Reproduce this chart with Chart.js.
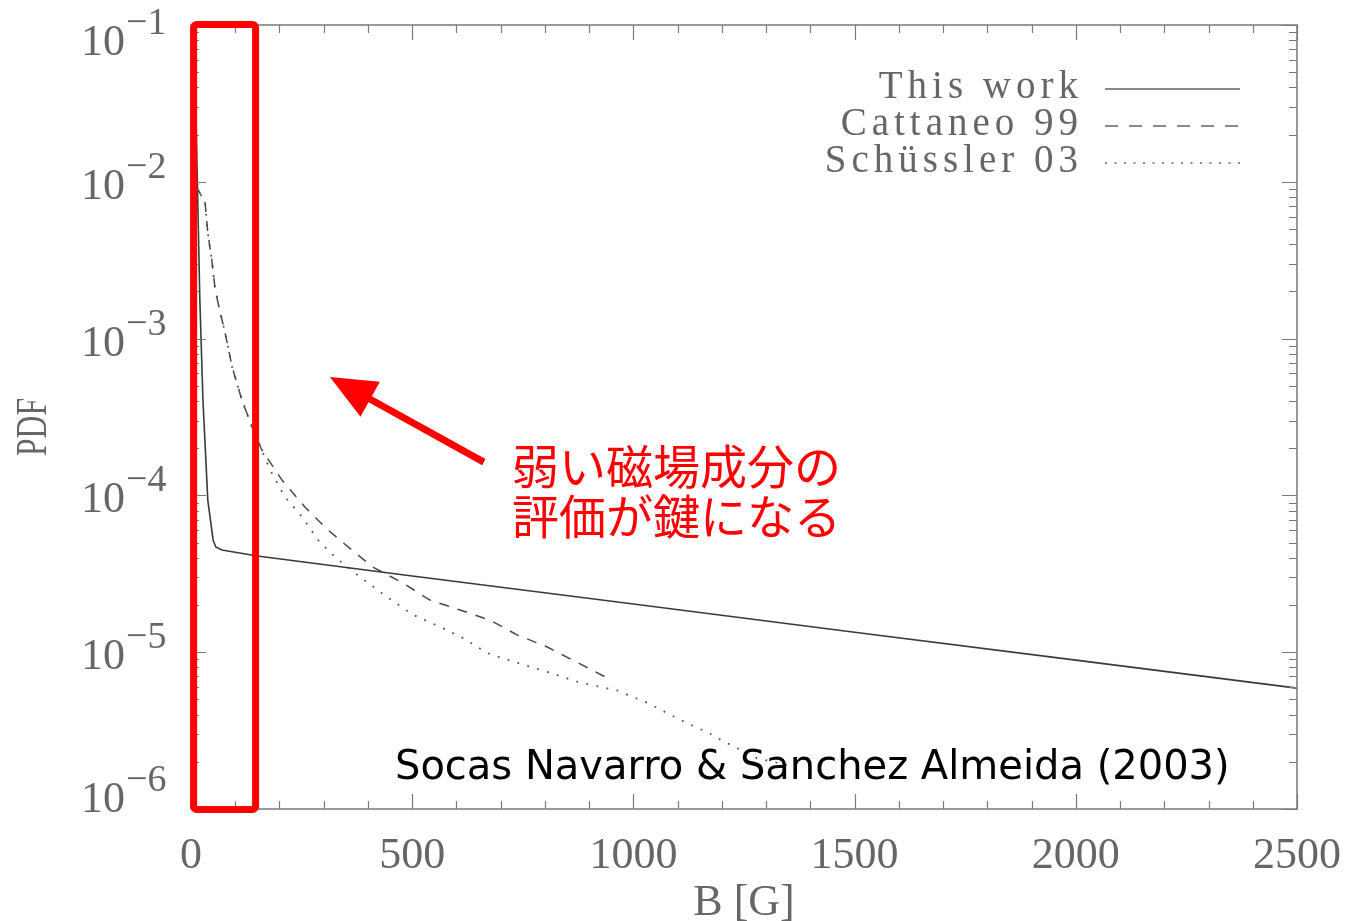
<!DOCTYPE html>
<html>
<head>
<meta charset="utf-8">
<script src="https://cdn.jsdelivr.net/npm/chart.js@4.4.1/dist/chart.umd.min.js"></script>
<style>
  html, body { margin: 0; padding: 0; background: #ffffff; }
  #wrap { width: 1347px; height: 921px; position: relative; }
</style>
</head>
<body>
<div id="wrap"><canvas id="c" width="1347" height="921"></canvas></div>
<script>
// ---- data: magnetic field strength B [G] and probability density ----
const seriesNames = ['This work', 'Cattaneo 99', 'Schüssler 03'];

const thisWorkB   = [11, 20, 27, 38, 50, 56, 70, 150, 500, 1000, 1500, 2000, 2500];
const thisWorkPdf = [2.87e-2, 1.76e-3, 4.06e-4, 9.3e-5, 5.2e-5, 4.69e-5, 4.49e-5, 4.11e-5,
                     3.06e-5, 2.03e-5, 1.34e-5, 8.9e-6, 5.9e-6];

const cattaneoB   = [11, 32, 38, 47, 54, 61, 77, 93, 115, 138, 160, 206, 258, 310, 364,
                     411, 479, 540, 608, 676, 737, 805, 863, 943];
const cattaneoPdf = [9.5e-3, 7.3e-3, 4.7e-3, 3.17e-3, 2.13e-3, 1.69e-3, 1.09e-3, 6.6e-4,
                     4.06e-4, 2.73e-4, 1.95e-4, 1.25e-4, 8.4e-5, 6.0e-5, 4.48e-5, 3.49e-5,
                     2.76e-5, 2.15e-5, 1.86e-5, 1.60e-5, 1.29e-5, 1.08e-5, 8.9e-6, 6.8e-6];

const schusslerB   = [11, 32, 38, 47, 54, 61, 77, 93, 115, 138, 179, 212, 251, 287, 325,
                      382, 443, 502, 563, 615, 669, 728, 805, 879, 963, 1033, 1076, 1121,
                      1166, 1207, 1234, 1279, 1347];
const schusslerPdf = [9.5e-3, 7.3e-3, 4.7e-3, 3.17e-3, 2.13e-3, 1.69e-3, 1.09e-3, 6.6e-4,
                      4.06e-4, 2.73e-4, 1.45e-4, 9.8e-5, 7.3e-5, 5.2e-5, 4.05e-5, 3.02e-5,
                      2.25e-5, 1.73e-5, 1.45e-5, 1.23e-5, 9.9e-6, 8.7e-6, 7.5e-6, 6.4e-6,
                      5.7e-6, 4.74e-6, 4.09e-6, 3.53e-6, 3.10e-6, 2.67e-6, 2.45e-6, 2.11e-6,
                      1.91e-6];

// ---- axes ----
const xTickValues    = [0, 500, 1000, 1500, 2000, 2500];
const xMinorStep     = 100;
const yTickExponents = [-1, -2, -3, -4, -5, -6];
const xTitle = 'B [G]';
const yTitle = 'PDF';

// ---- annotations ----
const highlightRangeB = [6, 146];
const arrowFrom = { b: 662, pdf: 1.63e-4 };
const arrowTo   = { b: 314, pdf: 5.7e-4 };
const noteLines = ['弱い磁場成分の', '評価が鍵になる'];
const citation  = 'Socas Navarro & Sanchez Almeida (2003)';

function toPoints(xs, ys) { return xs.map((x, i) => ({ x: x, y: ys[i] })); }

const lineStyles = [
  { color: '#3a3a3a', width: 1.6, dash: [] },
  { color: '#4a4a4a', width: 1.5, dash: [10, 9] },
  { color: '#555555', width: 1.8, dash: [1.8, 8.5] }
];

const AXIS_GRAY = '#7a7a7a';
const LABEL_GRAY = '#666666';

const decorations = {
  id: 'decorations',
  afterDatasetsDraw(chart) {
    const ctx = chart.ctx;
    const a = chart.chartArea;
    const xs = chart.scales.x, ys = chart.scales.y;
    ctx.save();

    // frame
    ctx.strokeStyle = AXIS_GRAY;
    ctx.lineWidth = 1.5;
    ctx.setLineDash([]);
    ctx.strokeRect(a.left, a.top, a.right - a.left, a.bottom - a.top);

    // x ticks (bottom and top, pointing inward)
    ctx.lineWidth = 1.2;
    const xMax = xTickValues[xTickValues.length - 1];
    for (let v = 0; v <= xMax; v += xMinorStep) {
      const px = Math.round(xs.getPixelForValue(v)) + 0.5;
      const major = xTickValues.includes(v);
      const len = major ? 15 : 8;
      ctx.beginPath();
      ctx.moveTo(px, a.bottom); ctx.lineTo(px, a.bottom - len);
      ctx.moveTo(px, a.top); ctx.lineTo(px, a.top + len);
      ctx.stroke();
    }
    // y ticks (left and right)
    const yMinExp = Math.min(...yTickExponents), yMaxExp = Math.max(...yTickExponents);
    for (let e = yMinExp; e <= yMaxExp; e++) {
      for (let k = 1; k <= 9; k++) {
        if (e === yMaxExp && k > 1) break;
        const v = k * Math.pow(10, e);
        const py = Math.round(ys.getPixelForValue(v)) + 0.5;
        const len = k === 1 ? 15 : 8;
        ctx.beginPath();
        ctx.moveTo(a.left, py); ctx.lineTo(a.left + len, py);
        ctx.moveTo(a.right, py); ctx.lineTo(a.right - len, py);
        ctx.stroke();
      }
    }

    // x tick labels
    ctx.fillStyle = LABEL_GRAY;
    ctx.font = '44px "Liberation Serif"';
    ctx.textAlign = 'center';
    ctx.textBaseline = 'alphabetic';
    xTickValues.forEach(v => {
      ctx.fillText(String(v), xs.getPixelForValue(v), a.bottom + 59);
    });

    // y tick labels: 10 with superscript exponent
    yTickExponents.forEach(e => {
      const ty = ys.getPixelForValue(Math.pow(10, e));
      const cy = Math.min(Math.max(ty + 2, a.top + 15), a.bottom - 12);
      ctx.font = '44px "Liberation Serif"';
      ctx.textAlign = 'right';
      ctx.fillText('10', a.left - 66, cy + 15);
      ctx.font = '38px "Liberation Serif"';
      ctx.textAlign = 'left';
      ctx.fillText('\u2212' + Math.abs(e), a.left - 65, cy - 6);
    });

    // axis titles
    ctx.font = '44px "Liberation Serif"';
    ctx.textAlign = 'center';
    ctx.fillText(xTitle, (a.left + a.right) / 2, a.bottom + 106);
    ctx.save();
    ctx.translate(46, (a.top + a.bottom) / 2 + 10);
    ctx.rotate(-Math.PI / 2);
    ctx.scale(0.72, 1);
    ctx.fillText(yTitle, 0, 0);
    ctx.restore();

    // legend
    ctx.font = '39px "Liberation Serif"';
    ctx.letterSpacing = '5px';
    ctx.textAlign = 'left';
    const legendRight = a.right - 219;
    const rowBase = [a.top + 73, a.top + 110, a.top + 147];
    seriesNames.forEach((name, i) => {
      const w = ctx.measureText(name).width - 5;
      ctx.fillStyle = LABEL_GRAY;
      ctx.fillText(name, legendRight - w, rowBase[i]);
      const ly = rowBase[i] - 9;
      ctx.strokeStyle = '#8a8a8a';
      ctx.lineWidth = i === 0 ? 2.2 : 2;
      ctx.setLineDash(i === 1 ? [13, 11] : i === 2 ? [2, 7.5] : []);
      ctx.beginPath();
      ctx.moveTo(a.right - 192, ly); ctx.lineTo(a.right - 57, ly);
      ctx.stroke();
    });
    ctx.letterSpacing = '0px';
    ctx.setLineDash([]);

    // highlight box over the weak-field range
    const bx0 = xs.getPixelForValue(highlightRangeB[0]);
    const bx1 = xs.getPixelForValue(highlightRangeB[1]);
    ctx.strokeStyle = '#ff0000';
    ctx.lineWidth = 7;
    ctx.lineJoin = 'round';
    ctx.beginPath();
    if (ctx.roundRect) {
      ctx.roundRect(bx0, a.top - 0.5, bx1 - bx0, a.bottom - a.top + 1, 3);
    } else {
      ctx.rect(bx0, a.top - 0.5, bx1 - bx0, a.bottom - a.top + 1);
    }
    ctx.stroke();

    // arrow
    const fx = xs.getPixelForValue(arrowFrom.b), fy = ys.getPixelForValue(arrowFrom.pdf);
    const tx = xs.getPixelForValue(arrowTo.b), ty = ys.getPixelForValue(arrowTo.pdf);
    const ang = Math.atan2(ty - fy, tx - fx);
    const headLen = 46, headHalf = 20;
    const hbx = tx - headLen * Math.cos(ang), hby = ty - headLen * Math.sin(ang);
    ctx.lineCap = 'butt';
    ctx.beginPath();
    ctx.moveTo(fx, fy); ctx.lineTo(hbx + 4 * Math.cos(ang), hby + 4 * Math.sin(ang));
    ctx.stroke();
    ctx.fillStyle = '#ff0000';
    ctx.beginPath();
    ctx.moveTo(tx, ty);
    ctx.lineTo(hbx + headHalf * Math.sin(ang), hby - headHalf * Math.cos(ang));
    ctx.lineTo(hbx - headHalf * Math.sin(ang), hby + headHalf * Math.cos(ang));
    ctx.closePath();
    ctx.fill();

    // note text
    ctx.font = '47px "Noto Sans CJK JP"';
    ctx.textAlign = 'left';
    ctx.textBaseline = 'middle';
    ctx.fillStyle = '#ff0000';
    noteLines.forEach((t, i) => ctx.fillText(t, 512, 466 + i * 50));

    // citation
    ctx.font = '40px "DejaVu Sans"';
    ctx.fillStyle = '#000000';
    ctx.textAlign = 'left';
    ctx.textBaseline = 'alphabetic';
    ctx.fillText(citation, 395, 779);

    ctx.restore();
  }
};

new Chart(document.getElementById('c'), {
  type: 'line',
  data: {
    datasets: [
      { label: seriesNames[0], data: toPoints(thisWorkB, thisWorkPdf) },
      { label: seriesNames[1], data: toPoints(cattaneoB, cattaneoPdf) },
      { label: seriesNames[2], data: toPoints(schusslerB, schusslerPdf) }
    ].map((d, i) => Object.assign(d, {
      borderColor: lineStyles[i].color,
      borderWidth: lineStyles[i].width,
      borderDash: lineStyles[i].dash,
      pointRadius: 0,
      tension: 0,
      fill: false
    }))
  },
  options: {
    responsive: false,
    devicePixelRatio: 1,
    animation: false,
    layout: { padding: { left: 191, top: 25, right: 50, bottom: 112 } },
    plugins: { legend: { display: false }, tooltip: { enabled: false } },
    scales: {
      x: {
        type: 'linear', min: 0, max: 2500,
        grid: { display: false, drawTicks: false },
        border: { display: false },
        ticks: { display: false }
      },
      y: {
        type: 'logarithmic', min: 1e-6, max: 1e-1,
        grid: { display: false, drawTicks: false },
        border: { display: false },
        ticks: { display: false }
      }
    }
  },
  plugins: [decorations]
});
</script>
</body>
</html>
